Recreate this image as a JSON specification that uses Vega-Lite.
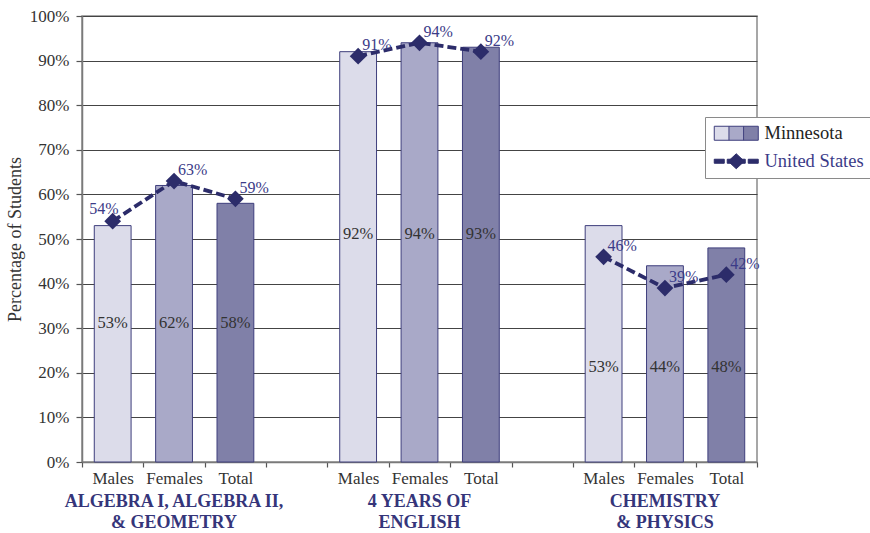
{
  "$schema": "https://vega.github.io/schema/vega-lite/v6.json",
  "width": 675,
  "height": 446,
  "autosize": {"type": "none"},
  "padding": {"left": 82, "top": 16, "right": 113, "bottom": 71},
  "background": "white",
  "config": {
    "font": "Liberation Serif",
    "view": {"stroke": "#8a8a8a", "strokeWidth": 1.5},
    "axis": {
      "labelFont": "Liberation Serif",
      "labelFontSize": 17,
      "labelColor": "#333333",
      "titleFont": "Liberation Serif",
      "domainColor": "#7a7a7a",
      "domainWidth": 1.5,
      "tickColor": "#555555",
      "tickWidth": 1.2
    }
  },
  "datasets": {
    "scores": [
      {"slot": "alg|Males", "group": "alg", "sub": "Males", "series": "Minnesota", "pct": 0.53},
      {"slot": "alg|Females", "group": "alg", "sub": "Females", "series": "Minnesota", "pct": 0.62},
      {"slot": "alg|Total", "group": "alg", "sub": "Total", "series": "Minnesota", "pct": 0.58},
      {"slot": "eng|Males", "group": "eng", "sub": "Males", "series": "Minnesota", "pct": 0.92},
      {"slot": "eng|Females", "group": "eng", "sub": "Females", "series": "Minnesota", "pct": 0.94},
      {"slot": "eng|Total", "group": "eng", "sub": "Total", "series": "Minnesota", "pct": 0.93},
      {"slot": "sci|Males", "group": "sci", "sub": "Males", "series": "Minnesota", "pct": 0.53},
      {"slot": "sci|Females", "group": "sci", "sub": "Females", "series": "Minnesota", "pct": 0.44},
      {"slot": "sci|Total", "group": "sci", "sub": "Total", "series": "Minnesota", "pct": 0.48},
      {"slot": "alg|Males", "group": "alg", "sub": "Males", "series": "United States", "pct": 0.54},
      {"slot": "alg|Females", "group": "alg", "sub": "Females", "series": "United States", "pct": 0.63},
      {"slot": "alg|Total", "group": "alg", "sub": "Total", "series": "United States", "pct": 0.59},
      {"slot": "eng|Males", "group": "eng", "sub": "Males", "series": "United States", "pct": 0.91},
      {"slot": "eng|Females", "group": "eng", "sub": "Females", "series": "United States", "pct": 0.94},
      {"slot": "eng|Total", "group": "eng", "sub": "Total", "series": "United States", "pct": 0.92},
      {"slot": "sci|Males", "group": "sci", "sub": "Males", "series": "United States", "pct": 0.46},
      {"slot": "sci|Females", "group": "sci", "sub": "Females", "series": "United States", "pct": 0.39},
      {"slot": "sci|Total", "group": "sci", "sub": "Total", "series": "United States", "pct": 0.42}
    ],
    "subjects": [
      {"slot": "alg|Females", "label": "ALGEBRA I, ALGEBRA II,\n& GEOMETRY"},
      {"slot": "eng|Females", "label": "4 YEARS OF\nENGLISH"},
      {"slot": "sci|Females", "label": "CHEMISTRY\n& PHYSICS"}
    ]
  },
  "data": {"name": "scores"},
  "encoding": {
    "x": {
      "field": "slot",
      "type": "nominal",
      "scale": {
        "type": "band",
        "paddingInner": 0,
        "paddingOuter": 0,
        "domain": ["alg|Males", "alg|Females", "alg|Total", "gap1", "eng|Males", "eng|Females", "eng|Total", "gap2", "sci|Males", "sci|Females", "sci|Total"]
      },
      "axis": {
        "title": null,
        "labelAngle": 0,
        "tickBand": "extent",
        "tickSize": 5,
        "labelPadding": 3,
        "grid": false,
        "labelExpr": "split(datum.value, '|')[1] || ''"
      }
    }
  },
  "layer": [
    {
      "transform": [{"filter": "datum.series === 'Minnesota'"}],
      "mark": {"type": "bar", "width": {"band": 0.6}, "stroke": "#3e3e7c", "strokeWidth": 1},
      "encoding": {
        "y": {
          "field": "pct",
          "type": "quantitative",
          "scale": {"domain": [0, 1], "nice": false},
          "axis": {
            "title": "Percentage of Students",
            "titleFontSize": 18,
            "titleFontWeight": "normal",
            "titleColor": "#333333",
            "titlePadding": 5,
            "format": ".0%",
            "values": [0, 0.1, 0.2, 0.3, 0.4, 0.5, 0.6, 0.7, 0.8, 0.9, 1],
            "tickSize": 6,
            "labelPadding": 7,
            "grid": true,
            "gridColor": "#444444",
            "gridWidth": 1.2
          }
        },
        "fill": {
          "field": "sub",
          "type": "nominal",
          "scale": {"domain": ["Males", "Females", "Total"], "range": ["#dcdcea", "#a9a9c8", "#8080a8"]},
          "legend": null
        }
      }
    },
    {
      "transform": [{"filter": "datum.series === 'United States'"}],
      "mark": {"type": "line"},
      "encoding": {
        "y": {"field": "pct", "type": "quantitative"},
        "detail": {"field": "group"},
        "order": {"value": null},
        "stroke": {"value": "#2c2c6a"},
        "strokeWidth": {"value": 3.8},
        "strokeDash": {"value": [9, 4]},
        "opacity": {
          "field": "series",
          "type": "nominal",
          "scale": {"domain": ["Minnesota", "United States"], "range": [1, 1]},
          "legend": {
            "type": "symbol",
            "title": null,
            "orient": "none",
            "legendX": 623,
            "legendY": 101,
            "symbolSize": 196,
            "symbolType": {"expr": "datum.value === 'Minnesota' ? 'M-1,-1H5.29V1H-1Z M1.1,-1V1 M3.19,-1V1' : 'M-1,-0.286H0.429V0.286H-1Z M0.857,-0.286H1.6V0.286H0.857Z M1,0L2.143,-1.07L3.286,0L2.143,1.07Z M2.686,-0.286H3.429V0.286H2.686Z M3.857,-0.286H5.286V0.286H3.857Z'"},
            "symbolFillColor": {"expr": "datum.value === 'Minnesota' ? {gradient: 'linear', stops: [{offset: 0, color: '#dcdcea'}, {offset: 0.333, color: '#dcdcea'}, {offset: 0.334, color: '#a9a9c8'}, {offset: 0.666, color: '#a9a9c8'}, {offset: 0.667, color: '#8080a8'}, {offset: 1, color: '#8080a8'}]} : '#2c2c6a'"},
            "symbolStrokeColor": {"expr": "datum.value === 'Minnesota' ? '#3e3e7c' : '#2c2c6a'"},
            "symbolStrokeWidth": 1,
            "symbolOpacity": 1,
            "labelOffset": 34,
            "labelFont": "Liberation Serif",
            "labelFontSize": 18.5,
            "labelColor": {"expr": "datum.value === 'Minnesota' ? '#222222' : '#3b3b88'"},
            "strokeColor": "#8a8a8a",
            "fillColor": "white",
            "padding": 7,
            "rowPadding": 8
          }
        }
      }
    },
    {
      "transform": [{"filter": "datum.series === 'United States'"}],
      "mark": {"type": "point", "filled": true, "size": 280, "opacity": 1, "color": "#2c2c6a", "shape": "diamond"},
      "encoding": {
        "y": {"field": "pct", "type": "quantitative"}
      }
    },
    {
      "transform": [{"filter": "datum.series === 'Minnesota' && datum.group === 'alg'"}],
      "mark": {"type": "text", "fontSize": 16.5, "color": "#333333", "baseline": "middle"},
      "encoding": {"y": {"datum": 0.312, "type": "quantitative"}, "text": {"field": "pct", "type": "quantitative", "format": ".0%"}}
    },
    {
      "transform": [{"filter": "datum.series === 'Minnesota' && datum.group === 'eng'"}],
      "mark": {"type": "text", "fontSize": 16.5, "color": "#333333", "baseline": "middle"},
      "encoding": {"y": {"datum": 0.511, "type": "quantitative"}, "text": {"field": "pct", "type": "quantitative", "format": ".0%"}}
    },
    {
      "transform": [{"filter": "datum.series === 'Minnesota' && datum.group === 'sci'"}],
      "mark": {"type": "text", "fontSize": 16.5, "color": "#333333", "baseline": "middle"},
      "encoding": {"y": {"datum": 0.213, "type": "quantitative"}, "text": {"field": "pct", "type": "quantitative", "format": ".0%"}}
    },
    {
      "transform": [{"filter": "datum.series === 'United States' && datum.slot !== 'alg|Males'"}],
      "mark": {"type": "text", "fontSize": 16, "color": "#3b3b88", "align": "left", "baseline": "middle", "dx": 4, "dy": -11},
      "encoding": {"y": {"field": "pct", "type": "quantitative"}, "text": {"field": "pct", "type": "quantitative", "format": ".0%"}}
    },
    {
      "transform": [{"filter": "datum.series === 'United States' && datum.slot === 'alg|Males'"}],
      "mark": {"type": "text", "fontSize": 16, "color": "#3b3b88", "align": "right", "baseline": "middle", "dx": 6, "dy": -12},
      "encoding": {"y": {"field": "pct", "type": "quantitative"}, "text": {"field": "pct", "type": "quantitative", "format": ".0%"}}
    },
    {
      "data": {"name": "subjects"},
      "mark": {"type": "text", "fontSize": 18, "fontWeight": "bold", "color": "#35357a", "align": "center", "baseline": "top", "lineBreak": "\n", "lineHeight": 21},
      "encoding": {"y": {"datum": -0.07, "type": "quantitative"}, "text": {"field": "label", "type": "nominal"}}
    }
  ]
}
